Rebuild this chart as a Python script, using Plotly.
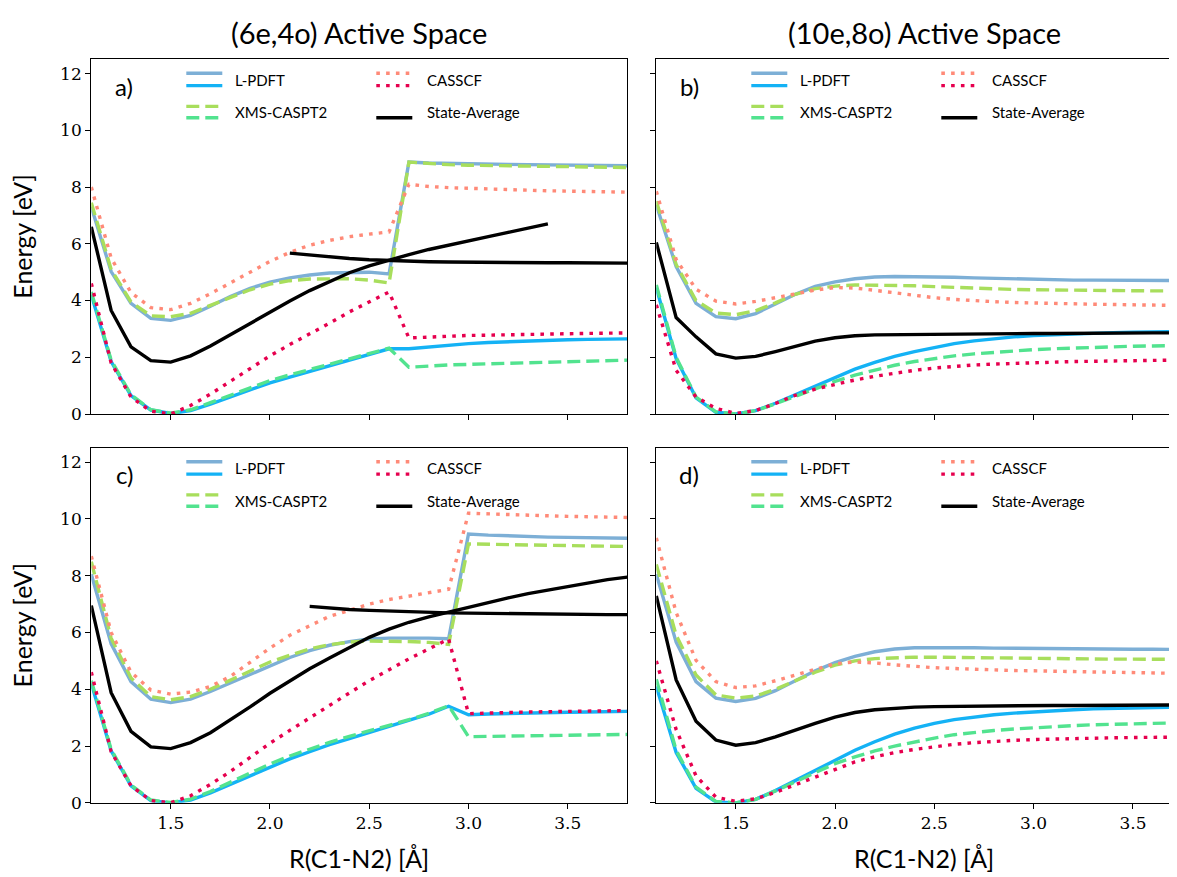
import plotly.graph_objects as go

# ---------------- data ----------------
X = [1.1, 1.2, 1.3, 1.4, 1.5, 1.6, 1.7, 1.8, 1.9, 2.0, 2.1, 2.2, 2.3, 2.4,
     2.5, 2.6, 2.7, 2.8, 2.9, 3.0, 3.1, 3.2, 3.3, 3.4, 3.5, 3.6, 3.7, 3.8]

# panel a: (6e,4o)
lpdft_s1_a = [7.3, 5.02, 3.9, 3.37, 3.3, 3.48, 3.8, 4.14, 4.43, 4.65, 4.8, 4.9, 4.97, 5.0, 5.0, 4.94,
              8.88, 8.85, 8.83, 8.82, 8.81, 8.8, 8.79, 8.78, 8.78, 8.77, 8.76, 8.75]
lpdft_s0_a = [4.2, 1.85, 0.65, 0.14, 0.02, 0.12, 0.35, 0.6, 0.85, 1.1, 1.3, 1.5, 1.7, 1.9, 2.1, 2.3,
              2.3, 2.37, 2.43, 2.48, 2.52, 2.55, 2.58, 2.6, 2.62, 2.63, 2.64, 2.65]
xms_s1_a = [7.45, 5.1, 3.95, 3.46, 3.43, 3.55, 3.83, 4.12, 4.38, 4.58, 4.7, 4.76, 4.78, 4.77, 4.72, 4.62,
            8.88, 8.82, 8.79, 8.77, 8.76, 8.75, 8.74, 8.73, 8.72, 8.71, 8.7, 8.69]
xms_s0_a = [4.3, 1.9, 0.68, 0.15, 0.03, 0.15, 0.4, 0.67, 0.93, 1.18, 1.38, 1.57, 1.76, 1.95, 2.13, 2.32,
            1.65, 1.7, 1.73, 1.75, 1.77, 1.79, 1.81, 1.83, 1.85, 1.87, 1.88, 1.9]
casscf_s1_a = [8.0, 5.5, 4.28, 3.75, 3.68, 3.9, 4.24, 4.63, 5.02, 5.38, 5.7, 5.95, 6.12, 6.25, 6.34, 6.42,
               8.1, 8.02, 7.98, 7.95, 7.93, 7.91, 7.89, 7.87, 7.86, 7.85, 7.84, 7.82]
casscf_s0_a = [4.6, 1.8, 0.6, 0.1, 0.0, 0.3, 0.7, 1.15, 1.6, 2.05, 2.45, 2.82, 3.2, 3.6, 3.95, 4.3,
               2.68, 2.72, 2.75, 2.77, 2.78, 2.8, 2.81, 2.82, 2.83, 2.84, 2.85, 2.86]
sa1_a_x = X[:24]
sa1_a = [6.6, 3.65, 2.37, 1.88, 1.83, 2.05, 2.4, 2.8, 3.2, 3.6, 3.98, 4.35, 4.68, 4.98, 5.22, 5.43,
         5.62, 5.8, 5.96, 6.1, 6.25, 6.4, 6.55, 6.7]
sa2_a_x = X[10:]
sa2_a = [5.67, 5.6, 5.53, 5.48, 5.44, 5.41, 5.39, 5.37, 5.36, 5.35, 5.34, 5.34, 5.33, 5.33, 5.33,
         5.32, 5.32, 5.32]

# panel b: (10e,8o)
lpdft_s1_b = [7.37, 5.2, 3.9, 3.43, 3.36, 3.54, 3.88, 4.22, 4.5, 4.66, 4.77, 4.83, 4.85, 4.85, 4.84, 4.82,
              4.8, 4.78, 4.76, 4.74, 4.73, 4.72, 4.72, 4.71, 4.71, 4.7, 4.7, 4.7]
xms_s1_b = [7.5, 5.27, 4.0, 3.56, 3.5, 3.64, 3.92, 4.22, 4.42, 4.51, 4.55, 4.55, 4.54, 4.52, 4.49, 4.46,
            4.43, 4.41, 4.39, 4.38, 4.37, 4.36, 4.36, 4.35, 4.35, 4.34, 4.34, 4.33]
casscf_s1_b = [7.85, 5.45, 4.4, 3.98, 3.88, 3.97, 4.1, 4.24, 4.37, 4.46, 4.44, 4.36, 4.27, 4.18, 4.1, 4.04,
               3.99, 3.96, 3.93, 3.91, 3.9, 3.88, 3.87, 3.86, 3.85, 3.84, 3.83, 3.82]
lpdft_s0_b = [4.45, 1.95, 0.57, 0.06, 0.0, 0.12, 0.38, 0.68, 1.0, 1.3, 1.58, 1.82, 2.03, 2.2, 2.35, 2.48,
              2.58, 2.66, 2.72, 2.77, 2.8, 2.83, 2.85, 2.87, 2.88, 2.89, 2.9, 2.91]
xms_s0_b = [4.55, 2.0, 0.6, 0.08, 0.0, 0.12, 0.36, 0.63, 0.9, 1.15, 1.37, 1.56, 1.72, 1.85, 1.96, 2.05,
            2.12, 2.18, 2.23, 2.27, 2.3, 2.33, 2.35, 2.37, 2.39, 2.4, 2.41, 2.42]
casscf_s0_b = [3.85, 1.54, 0.6, 0.2, 0.02, 0.12, 0.37, 0.66, 0.88, 1.05, 1.2, 1.33, 1.44, 1.54, 1.62, 1.68,
               1.73, 1.76, 1.79, 1.81, 1.83, 1.85, 1.86, 1.87, 1.88, 1.89, 1.9, 1.91]
sa_b = [6.05, 3.4, 2.72, 2.12, 1.97, 2.03, 2.2, 2.4, 2.57, 2.69, 2.76, 2.79, 2.8, 2.81, 2.82, 2.82,
        2.83, 2.83, 2.84, 2.84, 2.84, 2.85, 2.85, 2.85, 2.86, 2.86, 2.86, 2.87]

# panel c: (6e,4o)
lpdft_s1_c = [8.05, 5.6, 4.27, 3.65, 3.53, 3.65, 3.92, 4.22, 4.53, 4.85, 5.12, 5.36, 5.55, 5.68, 5.77, 5.8,
              5.81, 5.8, 5.78, 9.47, 9.43, 9.4, 9.38, 9.36, 9.35, 9.34, 9.33, 9.32]
xms_s1_c = [8.49, 5.8, 4.4, 3.74, 3.63, 3.74, 4.0, 4.32, 4.65, 4.96, 5.2, 5.42, 5.57, 5.66, 5.7, 5.7,
            5.68, 5.65, 5.58, 9.12, 9.1, 9.09, 9.08, 9.07, 9.06, 9.05, 9.04, 9.03]
casscf_s1_c = [8.69, 6.0, 4.6, 3.97, 3.83, 3.9, 4.1, 4.45, 4.95, 5.45, 5.9, 6.25, 6.57, 6.78, 7.0, 7.16,
               7.29, 7.4, 7.52, 10.2, 10.17, 10.15, 10.13, 10.11, 10.09, 10.08, 10.06, 10.05]
lpdft_s0_c = [4.2, 1.83, 0.6, 0.08, 0.0, 0.1, 0.35, 0.65, 0.96, 1.27, 1.55, 1.8, 2.05, 2.26, 2.47, 2.67,
              2.88, 3.12, 3.4, 3.1, 3.13, 3.15, 3.17, 3.18, 3.19, 3.2, 3.21, 3.22]
xms_s0_c = [4.3, 1.88, 0.63, 0.1, 0.01, 0.13, 0.4, 0.72, 1.05, 1.37, 1.65, 1.9, 2.13, 2.34, 2.55, 2.73,
            2.93, 3.15, 3.42, 2.33, 2.34, 2.35, 2.36, 2.37, 2.38, 2.39, 2.4, 2.41]
casscf_s0_c = [4.6, 1.8, 0.6, 0.08, 0.0, 0.25, 0.65, 1.1, 1.6, 2.1, 2.55, 3.0, 3.45, 3.87, 4.3, 4.7,
               5.07, 5.42, 5.77, 3.14, 3.17, 3.19, 3.2, 3.21, 3.22, 3.23, 3.24, 3.25]
sa1_c_x = X
sa1_c = [6.95, 3.88, 2.52, 1.97, 1.91, 2.12, 2.47, 2.92, 3.38, 3.86, 4.3, 4.72, 5.1, 5.47, 5.83, 6.12,
         6.36, 6.55, 6.72, 6.9, 7.07, 7.22, 7.37, 7.5, 7.63, 7.75, 7.86, 7.95]
sa2_c_x = X[11:]
sa2_c = [6.92, 6.86, 6.81, 6.78, 6.75, 6.73, 6.71, 6.69, 6.68, 6.67, 6.66, 6.65, 6.65, 6.64, 6.64,
         6.63, 6.63]

# panel d: (10e,8o)
lpdft_s1_d = [8.05, 5.66, 4.27, 3.69, 3.57, 3.68, 3.95, 4.3, 4.65, 4.94, 5.16, 5.32, 5.42, 5.46, 5.47, 5.47,
              5.46, 5.45, 5.44, 5.43, 5.43, 5.42, 5.42, 5.41, 5.41, 5.41, 5.4, 5.4]
xms_s1_d = [8.4, 5.9, 4.5, 3.8, 3.69, 3.76, 4.0, 4.3, 4.6, 4.85, 5.0, 5.08, 5.12, 5.13, 5.13, 5.12,
            5.11, 5.1, 5.09, 5.08, 5.08, 5.07, 5.07, 5.06, 5.06, 5.06, 5.05, 5.05]
casscf_s1_d = [9.33, 6.7, 5.02, 4.27, 4.06, 4.12, 4.3, 4.5, 4.72, 4.9, 4.96, 4.93, 4.86, 4.8, 4.76, 4.73,
               4.7, 4.68, 4.66, 4.65, 4.63, 4.62, 4.61, 4.6, 4.59, 4.58, 4.56, 4.55]
lpdft_s0_d = [4.1, 1.77, 0.51, 0.03, 0.0, 0.12, 0.43, 0.78, 1.15, 1.5, 1.85, 2.15, 2.42, 2.63, 2.8, 2.93,
              3.03, 3.1, 3.16, 3.21, 3.25, 3.28, 3.31, 3.33, 3.35, 3.36, 3.37, 3.38]
xms_s0_d = [4.35, 1.85, 0.55, 0.05, 0.0, 0.12, 0.42, 0.75, 1.08, 1.38, 1.62, 1.83, 2.0, 2.15, 2.28, 2.4,
            2.48, 2.55, 2.6, 2.65, 2.69, 2.72, 2.75, 2.77, 2.79, 2.8, 2.82, 2.83]
casscf_s0_d = [5.0, 2.58, 0.95, 0.2, 0.05, 0.14, 0.37, 0.64, 0.92, 1.2, 1.44, 1.62, 1.77, 1.88, 1.98, 2.06,
               2.12, 2.17, 2.2, 2.23, 2.25, 2.27, 2.28, 2.29, 2.3, 2.31, 2.31, 2.32]
sa_d = [7.29, 4.33, 2.87, 2.21, 2.03, 2.12, 2.32, 2.57, 2.8, 3.02, 3.18, 3.28, 3.34, 3.37, 3.39, 3.4,
        3.41, 3.41, 3.42, 3.42, 3.43, 3.43, 3.43, 3.44, 3.44, 3.44, 3.45, 3.45]

x_tickvals = [1.5, 2.0, 2.5, 3.0, 3.5]
x_ticktext = ["1.5", "2.0", "2.5", "3.0", "3.5"]
y_tickvals = [0, 2, 4, 6, 8, 10, 12]
y_ticktext = ["0", "2", "4", "6", "8", "10", "12"]
col_titles = ["(6e,4o) Active Space", "(10e,8o) Active Space"]
panel_labels = ["a)", "b)", "c)", "d)"]
legend_names = ["L-PDFT", "XMS-CASPT2", "CASSCF", "State-Average"]

# ---------------- styles ----------------
C_LP1, C_LP0 = "#7DAFD6", "#14B2F5"
C_XM1, C_XM0 = "#A8DE5C", "#52E38F"
C_CA1, C_CA0 = "#FF8A78", "#E6004E"
LW = 3.4
DASH = "13px,6px"
DOT = "3.6px,6.2px"
W, H = 1177, 877
SANS = "Lato"
SERIF = "DejaVu Serif"

fig = go.Figure()

panels = [
    dict(ax="", lp=(lpdft_s1_a, lpdft_s0_a), xm=(xms_s1_a, xms_s0_a), ca=(casscf_s1_a, casscf_s0_a),
         sa=[(sa1_a_x, sa1_a), (sa2_a_x, sa2_a)]),
    dict(ax="2", lp=(lpdft_s1_b, lpdft_s0_b), xm=(xms_s1_b, xms_s0_b), ca=(casscf_s1_b, casscf_s0_b),
         sa=[(X, sa_b)]),
    dict(ax="3", lp=(lpdft_s1_c, lpdft_s0_c), xm=(xms_s1_c, xms_s0_c), ca=(casscf_s1_c, casscf_s0_c),
         sa=[(sa1_c_x, sa1_c), (sa2_c_x, sa2_c)]),
    dict(ax="4", lp=(lpdft_s1_d, lpdft_s0_d), xm=(xms_s1_d, xms_s0_d), ca=(casscf_s1_d, casscf_s0_d),
         sa=[(X, sa_d)]),
]

for p in panels:
    xa, ya = "x" + p["ax"], "y" + p["ax"]
    def add(xs, ys, color, dash):
        fig.add_trace(go.Scatter(x=xs, y=ys, mode="lines", xaxis=xa, yaxis=ya, showlegend=False,
                                 line=dict(color=color, width=LW, dash=dash), hoverinfo="skip"))
    add(X, p["lp"][0], C_LP1, "solid")
    add(X, p["lp"][1], C_LP0, "solid")
    add(X, p["xm"][0], C_XM1, DASH)
    add(X, p["xm"][1], C_XM0, DASH)
    add(X, p["ca"][0], C_CA1, DOT)
    add(X, p["ca"][1], C_CA0, DOT)
    for xs, ys in p["sa"]:
        add(xs, ys, "black", "solid")

# ---------------- layout ----------------
L1, R1 = 83.3, 619.3
L2, R2 = 648.3, 1177.0
T1, B1 = 52.0, 410.7
T2, B2 = 445.0, 804.0
x_right_b = 1.1 + (R2 - L2) / 198.6

def xd(a, b):
    return [a / W, b / W]

def yd(t, b):
    return [1 - b / H, 1 - t / H]

TICKFONT = dict(family=SERIF, size=17, color="black")

def xaxis(dom, rng, labels, anchor):
    return dict(domain=dom, range=rng, anchor=anchor, showline=True, linecolor="black", linewidth=1.3,
                mirror=True, ticks="outside", ticklen=5, tickwidth=1.3, tickcolor="black",
                showgrid=False, zeroline=False, tickmode="array", tickvals=x_tickvals,
                ticktext=x_ticktext, showticklabels=labels, tickfont=TICKFONT)

def yaxis(dom, labels, anchor, mirror):
    return dict(domain=dom, range=[0, 12.5], anchor=anchor, showline=True, linecolor="black",
                linewidth=1.3, mirror=mirror, ticks="outside", ticklen=5, tickwidth=1.3,
                tickcolor="black", showgrid=False, zeroline=False, tickmode="array",
                tickvals=y_tickvals, ticktext=y_ticktext, showticklabels=labels, tickfont=TICKFONT)

fig.update_layout(
    width=W, height=H, margin=dict(l=0, r=0, t=0, b=0),
    paper_bgcolor="white", plot_bgcolor="white", showlegend=False,
    xaxis=xaxis(xd(L1, R1), [1.1, 3.8], False, "y"),
    yaxis=yaxis(yd(T1, B1), True, "x", True),
    xaxis2=xaxis(xd(L2, R2), [1.1, x_right_b], False, "y2"),
    yaxis2=yaxis(yd(T1, B1), False, "x2", False),
    xaxis3=xaxis(xd(L1, R1), [1.1, 3.8], True, "y3"),
    yaxis3=yaxis(yd(T2, B2), True, "x3", True),
    xaxis4=xaxis(xd(L2, R2), [1.1, x_right_b], True, "y4"),
    yaxis4=yaxis(yd(T2, B2), False, "x4", False),
)

shapes = []
annotations = []

def px_ann(text, x, y, size, xanchor="center", yanchor="middle", angle=0, family=SANS):
    annotations.append(dict(text=text, x=x / W, y=1 - y / H, xref="paper", yref="paper",
                            showarrow=False, xanchor=xanchor, yanchor=yanchor, textangle=angle,
                            font=dict(family=family, size=size, color="black")))

def px_line(x0, x1, y, color, dash):
    shapes.append(dict(type="line", xref="paper", yref="paper", x0=x0 / W, x1=x1 / W,
                       y0=1 - y / H, y1=1 - y / H, line=dict(color=color, width=LW, dash=dash)))

# column titles and axis labels
px_ann(col_titles[0], (L1 + R1) / 2, 25, 29)
px_ann(col_titles[1], 916, 25, 29)
px_ann("R(C1-N2) [Å]", (L1 + R1) / 2, 860, 25)
px_ann("R(C1-N2) [Å]", 916, 860, 25)
px_ann("Energy [eV]", 14, (T1 + B1) / 2, 25, angle=-90)
px_ann("Energy [eV]", 14, (T2 + B2) / 2, 25, angle=-90)

# panel labels and legends
for i, (L, T) in enumerate([(L1, T1), (L2, T1), (L1, T2), (L2, T2)]):
    px_ann(panel_labels[i], L + 33, T + 27, 24)
    # column 1
    px_line(L + 95, L + 131, T + 14, C_LP1, "solid")
    px_line(L + 95, L + 131, T + 26.5, C_LP0, "solid")
    px_ann(legend_names[0], L + 142, T + 20.5, 15, xanchor="left")
    px_line(L + 95, L + 131, T + 47.5, C_XM1, DASH)
    px_line(L + 95, L + 131, T + 59, C_XM0, DASH)
    px_ann(legend_names[1], L + 142, T + 53.5, 15, xanchor="left")
    # column 2
    px_line(L + 285, L + 321, T + 14, C_CA1, DOT)
    px_line(L + 285, L + 321, T + 26.5, C_CA0, DOT)
    px_ann(legend_names[2], L + 334, T + 20.5, 15, xanchor="left")
    px_line(L + 285, L + 321, T + 59, "black", "solid")
    px_ann(legend_names[3], L + 334, T + 53.5, 15, xanchor="left")

fig.update_layout(shapes=shapes, annotations=annotations)
fig.write_html("out.html")
